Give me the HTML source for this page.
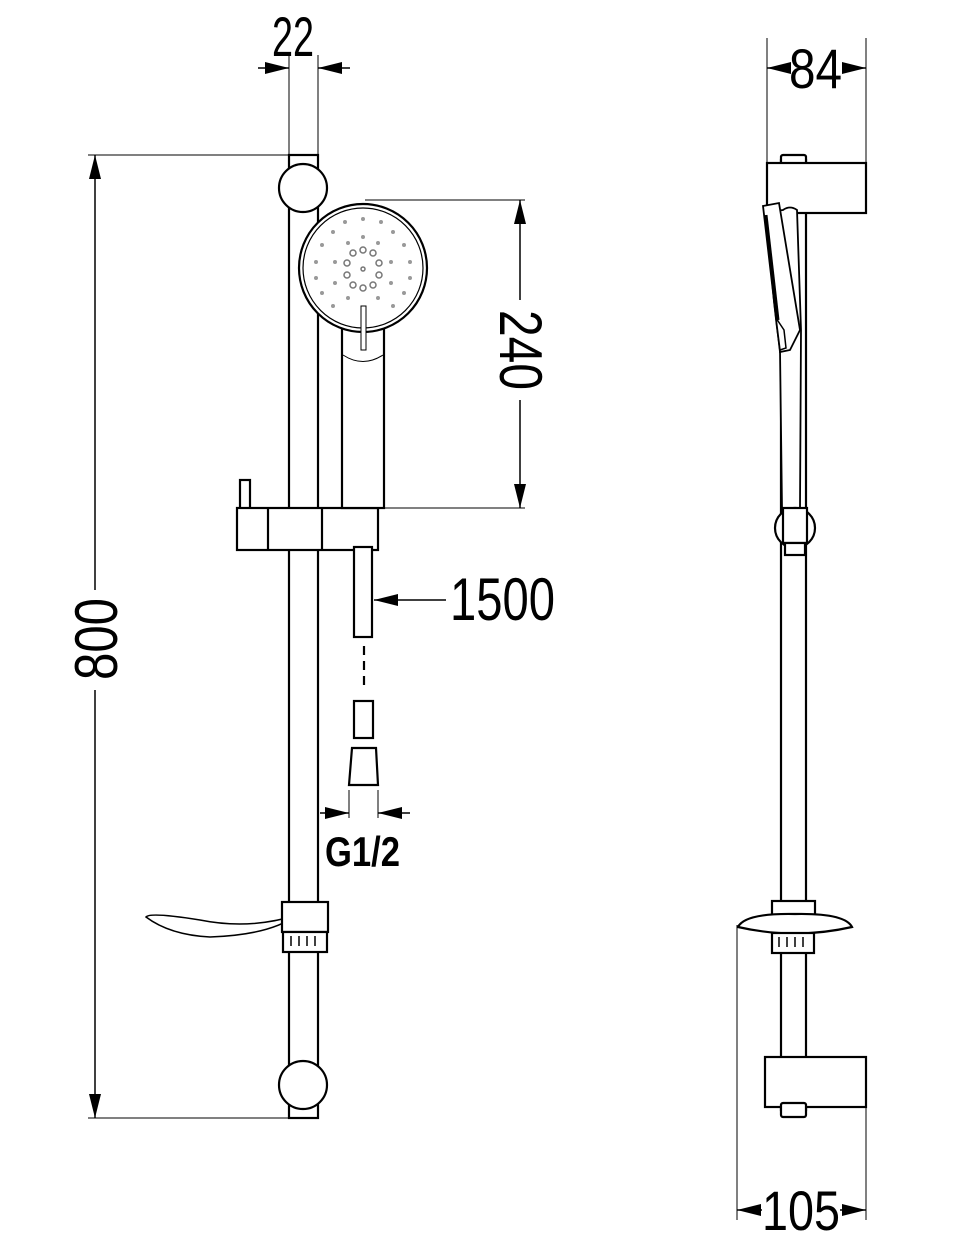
<!DOCTYPE html>
<html><head><meta charset="utf-8"><style>html,body{margin:0;padding:0;background:#fff}svg{display:block}text{font-family:"Liberation Sans",sans-serif;fill:#000}</style></head>
<body>
<svg width="958" height="1252" viewBox="0 0 958 1252" xmlns="http://www.w3.org/2000/svg">
<defs>
<marker id="b" viewBox="0 0 24 12" refX="24" refY="6" markerWidth="24" markerHeight="12" markerUnits="userSpaceOnUse" orient="auto"><path d="M0,0L24,6L0,12z" fill="#000"/></marker>
</defs>
<g fill="none" stroke="#000" stroke-width="1">
<line x1="289" y1="55" x2="289" y2="155"/><line x1="318" y1="55" x2="318" y2="155"/>
<line x1="88" y1="155" x2="310" y2="155"/><line x1="88" y1="1118" x2="300" y2="1118"/>
<line x1="365" y1="200" x2="525" y2="200"/><line x1="378" y1="508" x2="525" y2="508"/>
<line x1="349" y1="790" x2="349" y2="818"/><line x1="378" y1="790" x2="378" y2="818"/>
<line x1="767" y1="38" x2="767" y2="163"/><line x1="866" y1="38" x2="866" y2="163"/>
<line x1="737" y1="925" x2="737" y2="1220"/><line x1="866" y1="1057" x2="866" y2="1220"/>
</g>
<g fill="none" stroke="#000" stroke-width="1.5">
<line x1="95" y1="590" x2="95" y2="155" marker-end="url(#b)"/>
<line x1="95" y1="690" x2="95" y2="1118" marker-end="url(#b)"/>
<line x1="520" y1="300" x2="520" y2="200" marker-end="url(#b)"/>
<line x1="520" y1="400" x2="520" y2="508" marker-end="url(#b)"/>
<line x1="258" y1="68" x2="289" y2="68" marker-end="url(#b)"/>
<line x1="350" y1="68" x2="318" y2="68" marker-end="url(#b)"/>
<line x1="790" y1="68" x2="767" y2="68" marker-end="url(#b)"/>
<line x1="843" y1="68" x2="866" y2="68" marker-end="url(#b)"/>
<line x1="762" y1="1210" x2="737" y2="1210" marker-end="url(#b)"/>
<line x1="840" y1="1210" x2="866" y2="1210" marker-end="url(#b)"/>
<line x1="320" y1="813" x2="349" y2="813" marker-end="url(#b)"/>
<line x1="410" y1="813" x2="378" y2="813" marker-end="url(#b)"/>
<line x1="446" y1="600" x2="374" y2="600" marker-end="url(#b)"/>
</g>
<g fill="#fff" stroke="#000" stroke-width="2.2">
<rect x="289" y="155" width="29" height="963"/>
<circle cx="303" cy="188" r="24"/>
<circle cx="303" cy="1085" r="24"/>
<rect x="240" y="480" width="10" height="30"/>
<rect x="237" y="508" width="141" height="42"/>
<line x1="268" y1="508" x2="268" y2="550"/><line x1="322" y1="508" x2="322" y2="550"/>
<rect x="342" y="325" width="42" height="183"/>
<circle cx="363" cy="268" r="64"/>
<circle cx="363" cy="268" r="60" stroke-width="1.2"/>
<path d="M343,355 Q363,368 383,355" stroke-width="1" fill="none"/>
<rect x="361" y="306" width="5" height="44" stroke-width="1"/>
<rect x="354" y="547" width="18" height="90"/>
<rect x="354" y="701" width="19" height="37"/>
<path d="M352,748 L376,748 L378,785 L349,785 Z"/>
<line x1="364" y1="646" x2="364" y2="690" stroke-dasharray="9,6"/>
<path d="M146,917 Q150,912 200,920 Q250,930 297,915 Q270,935 210,937 Q170,935 146,917 Z" stroke-width="1.5"/>
<rect x="282" y="902" width="46" height="30"/>
<rect x="283" y="932" width="44" height="20"/>
<g stroke-width="1.5"><line x1="291" y1="936" x2="291" y2="946"/><line x1="299" y1="936" x2="299" y2="946"/><line x1="307" y1="936" x2="307" y2="946"/><line x1="315" y1="936" x2="315" y2="946"/></g>
<!-- right view -->
<rect x="781" y="160" width="25" height="950"/>
<rect x="781" y="155" width="25" height="12" rx="2"/>
<rect x="767" y="163" width="99" height="50"/>
<path d="M783,210 Q790,205 797,210 L801,330 L800,508 L782,508 L780,350 Q770,280 768,212 Z" stroke-width="1.8"/>
<path d="M763,206 L779,203 L800,330 L790,350 L780,352 Z" stroke-width="1.8"/>
<path d="M766,215 L778,320" stroke-width="3" fill="none"/>
<path d="M776,318 L780,350 L786,348 L784,330 Z" stroke-width="1.5"/>
<circle cx="795" cy="528" r="20"/>
<rect x="783" y="508" width="24" height="35"/>
<rect x="785" y="543" width="20" height="12"/>
<rect x="772" y="901" width="43" height="15"/>
<path d="M738,927 Q745,913 795,914 Q845,913 852,927 Q795,940 738,927 Z"/>
<rect x="772" y="933" width="42" height="20"/>
<g stroke-width="1.5"><line x1="779" y1="937" x2="779" y2="947"/><line x1="787" y1="937" x2="787" y2="947"/><line x1="795" y1="937" x2="795" y2="947"/><line x1="803" y1="937" x2="803" y2="947"/></g>
<rect x="765" y="1057" width="101" height="50"/>
<rect x="781" y="1103" width="25" height="14" rx="2"/>
</g>
<g fill="#999">
<circle cx="345" cy="222" r="2"/><circle cx="363" cy="219" r="2"/><circle cx="381" cy="222" r="2"/>
<circle cx="333" cy="232" r="2"/><circle cx="393" cy="232" r="2"/><circle cx="322" cy="245" r="2"/><circle cx="404" cy="245" r="2"/>
<circle cx="316" cy="262" r="2"/><circle cx="410" cy="262" r="2"/><circle cx="316" cy="278" r="2"/><circle cx="410" cy="278" r="2"/>
<circle cx="322" cy="293" r="2"/><circle cx="404" cy="293" r="2"/><circle cx="333" cy="306" r="2"/><circle cx="393" cy="306" r="2"/>
<circle cx="348" cy="243" r="2"/><circle cx="378" cy="243" r="2"/><circle cx="363" cy="237" r="2"/><circle cx="335" cy="262" r="2"/><circle cx="391" cy="262" r="2"/><circle cx="335" cy="283" r="2"/><circle cx="391" cy="283" r="2"/><circle cx="348" cy="298" r="2"/><circle cx="378" cy="298" r="2"/>
</g>
<g fill="none" stroke="#777" stroke-width="1.5">
<circle cx="353" cy="253" r="3"/><circle cx="363" cy="250" r="3"/><circle cx="373" cy="253" r="3"/><circle cx="347" cy="263" r="3"/><circle cx="379" cy="263" r="3"/><circle cx="347" cy="275" r="3"/><circle cx="379" cy="275" r="3"/><circle cx="353" cy="285" r="3"/><circle cx="363" cy="288" r="3"/><circle cx="373" cy="285" r="3"/><circle cx="363" cy="269" r="2"/>
</g>
<text x="272" y="56" font-size="56" textLength="42" lengthAdjust="spacingAndGlyphs">22</text>
<text x="789" y="88" font-size="56" textLength="53" lengthAdjust="spacingAndGlyphs">84</text>
<text x="762" y="1230" font-size="56" textLength="78" lengthAdjust="spacingAndGlyphs">105</text>
<text x="450" y="620" font-size="60" textLength="105" lengthAdjust="spacingAndGlyphs">1500</text>
<text x="325" y="866" font-size="42" font-weight="bold" textLength="75" lengthAdjust="spacingAndGlyphs">G1/2</text>
<text transform="translate(117,680) rotate(-90)" font-size="60" textLength="82" lengthAdjust="spacingAndGlyphs">800</text>
<text transform="translate(500,310) rotate(90)" font-size="60" textLength="80" lengthAdjust="spacingAndGlyphs">240</text>
</svg>
</body></html>
